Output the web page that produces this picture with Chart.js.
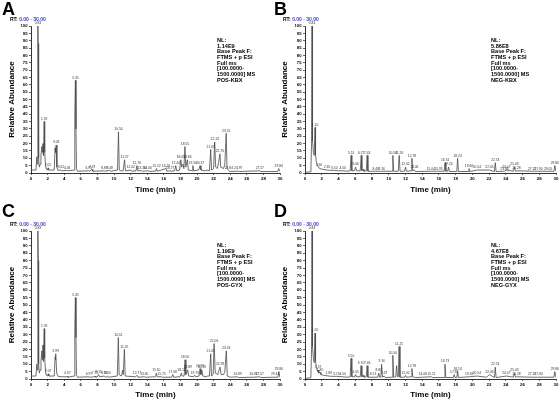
<!DOCTYPE html>
<html>
<head>
<meta charset="utf-8">
<script src="https://cdn.jsdelivr.net/npm/chart.js@4.4.1/dist/chart.umd.min.js"></script>
<style>
  html, body { margin: 0; padding: 0; background: #fff; overflow: hidden; }
  body { width: 560px; height: 401px; position: relative; }
  canvas { position: absolute; }
</style>
</head>
<body>
<canvas id="panelA" width="290" height="200" style="left:0;top:0"></canvas>
<canvas id="panelB" width="287" height="200" style="left:273px;top:0"></canvas>
<canvas id="panelC" width="290" height="201" style="left:0;top:200px"></canvas>
<canvas id="panelD" width="287" height="201" style="left:273px;top:200px"></canvas>
<script>
// panel text
const letters = ['A', 'B', 'C', 'D'];
const nlValues = ['1.14E9', '5.86E8', '1.19E9', '4.67E8'];
const sampleNames = ['POS-KBX', 'NEG-KBX', 'POS-GYX', 'NEG-GYX'];

// chromatogram traces, [time (min), relative abundance (%)]
const posKbx = [[0,2],[0.6,2],[0.7,11],[0.76,6],[0.83,100],[0.86,88],[0.92,10],[1.0,4],[1.1,6],[1.2,12],[1.3,18],[1.36,14],[1.45,20],[1.5,12],[1.59,35],[1.65,14],[1.75,5],[1.85,2.5],[2.0,2],[2.05,3.5],[2.12,2],[2.8,2],[2.9,17],[2.96,14],[3.03,19],[3.12,4],[3.25,1.8],[3.61,2],[3.7,1.5],[4.36,1.8],[4.5,1.5],[5.2,2],[5.28,40],[5.35,63],[5.42,30],[5.48,3],[5.6,1.2],[6.95,1.5],[7.05,1.2],[7.37,2.5],[7.45,1.2],[8.83,1.5],[8.95,1.2],[9.48,1.8],[9.6,1.2],[10.42,2],[10.54,28],[10.64,2],[10.8,1.5],[11.1,1.5],[11.27,9],[11.38,1.5],[12.02,2],[12.12,1.2],[12.65,1.5],[12.76,5],[12.86,1.5],[13.36,1.5],[13.46,1.2],[14.06,1.5],[14.2,1.2],[15.0,1.2],[15.12,3],[15.22,1.2],[16.26,3],[16.36,1.2],[16.77,1.5],[16.9,1.2],[17.3,1.5],[17.44,5],[17.55,1.5],[17.9,2],[18.05,9],[18.15,4],[18.3,6],[18.42,3],[18.55,18],[18.65,4],[18.84,9],[18.95,2],[19.4,1.5],[19.5,5],[19.6,1.5],[20.2,2],[20.37,5],[20.48,2],[20.9,1.5],[21.2,2],[21.5,1.5],[21.65,16],[21.75,2],[22.0,3],[22.13,21],[22.25,4],[22.45,3],[22.6,7],[22.76,13],[22.86,4],[23.2,3],[23.35,6],[23.52,27],[23.62,3],[23.84,1.5],[24.0,1],[24.97,1.3],[25.1,1],[27.57,1.5],[27.7,1],[29.72,1],[29.84,3],[30,1]];
const negKbx = [[0,0.5],[0.7,0.8],[0.78,20],[0.84,100],[0.88,60],[0.92,22],[1.0,14],[1.1,12],[1.2,31],[1.26,12],[1.35,8],[1.5,5],[1.66,3.5],[1.8,3],[2.1,2.5],[2.65,2],[3.0,1.8],[3.5,1.8],[4.0,1.5],[4.5,1.5],[5.0,1.2],[5.4,1.5],[5.51,12],[5.6,1.5],[5.9,1.5],[6.06,4],[6.15,1.5],[6.6,1.5],[6.72,12],[6.8,1.5],[6.95,2.5],[7.05,1.2],[7.33,1.5],[7.43,12],[7.52,1.2],[8.46,1.2],[9.16,1.2],[10.4,1.2],[10.5,12],[10.6,1.2],[11.15,1.2],[11.26,12],[11.36,1.2],[11.9,1.2],[12.02,4],[12.12,1.2],[12.68,1.5],[12.78,10],[12.88,1.5],[13.06,2],[13.2,1],[15.04,1.2],[15.95,1.2],[16.64,1.2],[16.74,7],[16.84,1.2],[17.06,1.2],[17.16,4],[17.26,1],[18.14,1],[18.24,10],[18.34,1],[19.5,1],[19.6,3],[19.7,1],[20.54,2],[22.05,2],[22.64,1],[22.74,7],[22.84,1],[23.84,1.2],[24.07,2],[24.9,1.2],[25.03,4],[25.15,1.2],[25.28,1.5],[27.15,1.2],[27.9,1.2],[29.05,1.2],[29.75,1.2],[29.86,5],[30,1]];
const posGyx = [[0,2],[0.6,2],[0.7,10],[0.76,6],[0.83,100],[0.87,80],[0.92,10],[1.0,4],[1.1,6],[1.2,12],[1.3,19],[1.36,13],[1.45,23],[1.5,12],[1.59,34],[1.65,14],[1.75,5],[1.85,2.5],[2.0,2],[2.07,3.5],[2.15,2],[2.8,2],[2.9,15],[2.96,13],[2.99,17],[3.1,4],[3.25,1.8],[3.6,1.5],[4.3,1.5],[4.37,2],[4.45,1.2],[5.2,2],[5.28,35],[5.35,55],[5.42,28],[5.48,3],[5.6,1.2],[6.97,1.5],[7.1,1.2],[7.6,1.5],[7.72,2],[7.8,1.2],[8.0,1.5],[8.15,3],[8.25,1.5],[8.84,2],[8.95,1.2],[9.1,1.5],[9.2,2],[9.3,1.2],[10.4,2],[10.52,28],[10.62,3],[10.9,2],[11.05,6],[11.12,3],[11.25,20],[11.35,2],[12.6,1.5],[12.77,2.5],[12.9,1.2],[13.65,1.5],[13.8,1.2],[15.0,1.5],[15.1,4],[15.2,1.5],[15.73,1.5],[15.85,1.2],[16.95,1.2],[17.08,3],[17.2,1.2],[17.95,1.5],[18.11,4],[18.2,2],[18.45,2],[18.56,13],[18.66,3],[18.89,6],[19.0,2],[19.6,1.5],[19.73,2.5],[19.85,1.5],[20.25,2],[20.37,7],[20.47,3],[20.58,6],[20.7,2],[21.1,1.5],[21.3,2],[21.5,2],[21.65,17],[21.75,2],[21.95,3],[22.06,24],[22.2,4],[22.5,3],[22.6,5],[22.78,8],[22.9,3],[23.2,3],[23.35,5],[23.53,19],[23.65,2],[24.0,1.2],[24.89,1.5],[25.0,1],[26.81,1.2],[27.57,1.5],[27.7,1],[29.41,1.2],[29.75,1.2],[29.86,5],[30,1]];
const negGyx = [[0,0.5],[0.7,0.8],[0.78,20],[0.84,100],[0.88,60],[0.92,22],[1.0,14],[1.1,11],[1.2,31],[1.26,12],[1.35,8],[1.5,5],[1.57,6],[1.65,4],[1.8,4.5],[1.9,3],[2.2,2.5],[2.83,2],[3.2,1.8],[3.74,1.8],[4.5,1.5],[5.0,1.2],[5.4,1.5],[5.5,14],[5.6,1.5],[5.95,1.5],[6.05,3],[6.15,1.5],[6.6,1.5],[6.7,9],[6.8,1.5],[6.95,2.5],[7.05,1.2],[7.33,1.5],[7.43,9],[7.52,1.2],[8.13,1.2],[8.7,1.2],[8.82,4],[8.92,1.2],[9.06,1.2],[9.16,10],[9.26,1.2],[9.47,2],[9.6,1],[10.4,1.2],[10.5,16],[10.6,1.2],[10.85,1.5],[10.95,9],[11.05,1.5],[11.15,1.5],[11.25,22],[11.35,1.2],[11.9,1.2],[12.02,2.5],[12.12,1.2],[12.68,1.5],[12.78,7],[12.88,1.5],[13.2,1],[14.08,1.2],[15.11,1.5],[15.2,1],[16.63,1],[16.73,10],[16.83,1],[17.75,1],[17.83,3],[17.93,1],[18.14,1],[18.24,5],[18.34,1],[19.63,1.5],[20.54,2],[21.7,1.2],[22.06,3],[22.64,1],[22.74,8],[22.84,1],[24.07,2],[24.9,1.2],[25.03,4],[25.15,1.2],[25.28,1.5],[27.15,1.2],[27.9,1.2],[29.75,1.2],[29.86,5],[30,1]];

// retention time labels printed over peaks
const posKbxPeaks = ['0.83','1.59','2.05','3.03','3.61','4.36','5.35','6.95','7.37','8.83','9.48','10.54','11.27','12.02','12.76','13.36','14.06','15.12','16.26','16.77','17.44','18.05','18.55','18.84','19.50','20.37','21.65','22.13','22.76','23.52','23.84','24.97','27.57','29.84'];
const negKbxPeaks = ['0.84','1.20','1.66','2.65','3.50','4.50','5.51','6.06','6.72','7.43','8.46','9.16','10.50','11.26','12.02','12.78','13.06','15.04','15.95','16.74','17.16','18.24','19.60','20.54','22.05','22.74','23.84','24.07','25.03','25.28','27.15','27.90','29.05','29.86'];
const posGyxPeaks = ['0.83','1.59','2.07','2.99','4.37','5.35','6.97','7.72','8.15','8.84','9.20','10.52','11.25','12.77','13.65','15.10','15.73','17.08','18.11','18.56','18.89','19.73','20.37','20.58','21.65','22.06','22.78','23.53','24.89','26.81','27.57','29.41','29.86'];
const negGyxPeaks = ['0.84','1.20','1.57','1.80','2.83','3.74','4.50','5.50','6.05','6.70','7.43','8.13','8.82','9.16','9.47','10.50','11.25','12.02','12.78','14.08','15.11','16.73','17.83','18.24','19.63','20.54','22.06','22.74','24.07','25.03','25.28','27.15','27.90','29.86'];

const FONT = "Arial, 'Liberation Sans', sans-serif";

function makePanel(id, i, trace, peaks, L) {
  const labelPlugin = {
    id: 'chromText' + i,
    afterDraw(chart) {
      const ctx = chart.ctx, area = chart.chartArea;
      const xs = chart.scales.x, ys = chart.scales.y;
      const pts = chart.data.datasets[0].data;
      ctx.save();
      ctx.fillStyle = '#000';
      ctx.textAlign = 'left';
      ctx.textBaseline = 'alphabetic';
      ctx.font = 'bold 18px ' + FONT;
      ctx.fillText(letters[i], L.letterX, L.letterY);

      ctx.font = 'bold 5px ' + FONT;
      ctx.fillText('RT:', 10, area.top - 5);
      const w = ctx.measureText('RT: ').width;
      ctx.fillStyle = '#3d3dc4';
      ctx.fillText('0.00 - 30.00', 10 + w, area.top - 5);

      // NL info block
      ctx.fillStyle = '#000';
      ctx.font = 'bold 5.6px ' + FONT;
      const lines = ['NL:', nlValues[i], 'Base Peak F:', 'FTMS + p ESI', 'Full ms',
        '[100.0000-', '1500.0000] MS', sampleNames[i]];
      lines.forEach((t, k) => ctx.fillText(t, area.left + 186, area.top + 15.8 + k * 5.7));

      // peak labels
      ctx.font = '3.3px ' + FONT;
      ctx.fillStyle = '#333';
      ctx.textAlign = 'center';
      ctx.textBaseline = 'bottom';
      peaks.forEach(lbl => {
        const rt = parseFloat(lbl);
        let best = null;
        pts.forEach(p => {
          if (Math.abs(p.x - rt) <= 0.12 && (best === null || p.y > best)) best = p.y;
        });
        if (best === null) best = 1;
        ctx.fillText(lbl, xs.getPixelForValue(rt), ys.getPixelForValue(best) - 1);
      });
      ctx.restore();
    }
  };

  new Chart(document.getElementById(id), {
    type: 'line',
    data: {
      datasets: [{
        data: trace.map(p => ({x: p[0], y: p[1]})),
        borderColor: '#4a4a4a',
        borderWidth: 0.8,
        pointRadius: 0,
        tension: 0,
        fill: false
      }]
    },
    options: {
      responsive: false,
      animation: false,
      layout: {padding: {left: 0, right: L.padRight, top: L.padTop, bottom: 0}},
      plugins: {legend: {display: false}, tooltip: {enabled: false}},
      scales: {
        x: {
          type: 'linear', min: 0, max: 30,
          ticks: {stepSize: 2, autoSkip: false, maxRotation: 0, padding: 1,
            color: '#000', font: {size: 4.4, weight: 'bold', family: FONT}},
          grid: {drawOnChartArea: false, tickLength: 2, color: '#000', lineWidth: 0.6},
          border: {color: '#000', width: 0.8},
          title: {display: true, text: 'Time (min)', color: '#000',
            font: {size: 8, weight: 'bold', family: FONT},
            padding: {top: 0, bottom: L.titleBottom}},
          afterFit(s) { s.height = L.xHeight; }
        },
        y: {
          min: 0, max: 100,
          ticks: {stepSize: 5, autoSkip: false, padding: 1.5,
            color: '#000', font: {size: 4.2, weight: 'bold', family: FONT}},
          grid: {drawOnChartArea: false, tickLength: 2, color: '#000', lineWidth: 0.6},
          border: {color: '#000', width: 0.8},
          title: {display: true, text: 'Relative Abundance', color: '#000',
            font: {size: 8, weight: 'bold', family: FONT},
            padding: {top: 7, bottom: 0}},
          afterFit(s) { s.width = L.yWidth; }
        }
      }
    },
    plugins: [labelPlugin]
  });
}

const topRow = {padTop: 26, xHeight: 27, titleBottom: 5.2, letterY: 15};
const bottomRow = {padTop: 31, xHeight: 22, titleBottom: 1, letterY: 16.5};

makePanel('panelA', 0, posKbx, posKbxPeaks, Object.assign({yWidth: 31, padRight: 10, letterX: 2}, topRow));
makePanel('panelB', 1, negKbx, negKbxPeaks, Object.assign({yWidth: 32, padRight: 4, letterX: 1}, topRow));
makePanel('panelC', 2, posGyx, posGyxPeaks, Object.assign({yWidth: 31, padRight: 10, letterX: 2}, bottomRow));
makePanel('panelD', 3, negGyx, negGyxPeaks, Object.assign({yWidth: 32, padRight: 4, letterX: 1}, bottomRow));
</script>
</body>
</html>
